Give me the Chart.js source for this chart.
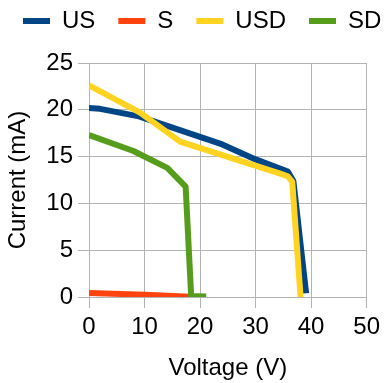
<!DOCTYPE html>
<html>
<head>
<meta charset="utf-8">
<script src="https://cdn.jsdelivr.net/npm/chart.js@4/dist/chart.umd.min.js"></script>
<style>
  html, body { margin: 0; padding: 0; background: #ffffff; }
  #chart { display: block; }
</style>
</head>
<body>
<canvas id="chart" width="385" height="383"></canvas>
<script>
// valeurs
const seriesNames = ["US", "S", "USD", "SD"];
const seriesColors = ["#004586", "#ff420e", "#ffd320", "#579d1c"];

const usVoltage = [0, 2, 9, 24, 30, 35.8, 36.8, 39.1];
const usCurrent = [20.2, 20.1, 19.3, 16.3, 14.7, 13.4, 12.4, 0.4];

const sVoltage = [0, 10, 18.2];
const sCurrent = [0.42, 0.25, 0.03];

const usdVoltage = [0, 9.2, 16.4, 34.3, 35.8, 36.6, 38.1];
const usdCurrent = [22.6, 19.7, 16.6, 13.2, 12.9, 12.3, 0];

const sdVoltage = [0, 8, 14.1, 17.4, 18.4, 21.1];
const sdCurrent = [17.3, 15.6, 13.8, 11.8, 0.1, 0.05];

const xTicks = [0, 10, 20, 30, 40, 50];
const yTicks = [0, 5, 10, 15, 20, 25];

function toPoints(xs, ys) {
  return xs.map((x, i) => ({ x: x, y: ys[i] }));
}

const allX = [usVoltage, sVoltage, usdVoltage, sdVoltage];
const allY = [usCurrent, sCurrent, usdCurrent, sdCurrent];

const datasets = seriesNames.map((name, i) => ({
  label: name,
  data: toPoints(allX[i], allY[i]),
  borderColor: seriesColors[i],
  backgroundColor: seriesColors[i],
  borderWidth: 6,
  borderJoinStyle: "round",
  showLine: true,
  pointRadius: 0,
  pointHoverRadius: 0,
  order: 4 - i, // SD dessiné au-dessus
}));

const gridColor = "#b3b3b3";
const font = { family: "'Liberation Sans', Arial, sans-serif", size: 24 };

// légende sur une seule ligne + espace sous la légende
const legendFit = {
  id: "legendFit",
  beforeInit(chart) {
    const fit = chart.legend.fit;
    chart.legend.fit = function () {
      this.maxWidth = 1000;
      fit.call(this);
      this.height += 20;
    };
    const draw = chart.legend.draw;
    chart.legend.draw = function () {
      const right = this.right;
      this.right = 1000; // pas de retour à la ligne
      draw.call(this);
      this.right = right;
    };
  },
};

new Chart(document.getElementById("chart"), {
  type: "scatter",
  data: { datasets: datasets },
  plugins: [legendFit],
  options: {
    responsive: false,
    animation: false,
    layout: { padding: { top: -14, right: 17, left: 0, bottom: 0 } },
    plugins: {
      tooltip: { enabled: false },
      legend: {
        position: "top",
        align: "start",
        labels: {
          font: font,
          color: "#000",
          boxWidth: 27,
          boxHeight: 6,
          padding: 23,
          sort: (a, b) => a.datasetIndex - b.datasetIndex,
          generateLabels(chart) {
            const items = Chart.defaults.plugins.legend.labels.generateLabels(chart);
            items.forEach((it) => { it.lineWidth = 0; });
            return items;
          },
        },
      },
    },
    scales: {
      x: {
        type: "linear",
        min: xTicks[0],
        max: xTicks[xTicks.length - 1],
        afterBuildTicks(scale) { scale.ticks = xTicks.map((v) => ({ value: v })); },
        afterFit(scale) { scale.height = 86; },
        grid: { color: gridColor, lineWidth: 1, tickLength: 11 },
        border: { color: gridColor },
        ticks: { font: font, color: "#000", padding: 5, maxRotation: 0 },
        title: { display: true, text: "Voltage (V)", font: font, color: "#000", padding: { top: 4, bottom: 0 } },
      },
      y: {
        type: "linear",
        min: yTicks[0],
        max: yTicks[yTicks.length - 1],
        afterBuildTicks(scale) { scale.ticks = yTicks.map((v) => ({ value: v })); },
        afterFit(scale) { scale.width = 89; },
        grid: { color: gridColor, lineWidth: 1, tickLength: 11 },
        border: { color: gridColor },
        ticks: { font: font, color: "#000", padding: 5 },
        title: { display: true, text: "Current (mA)", font: font, color: "#000", padding: { top: 4, bottom: 0 } },
      },
    },
  },
});
</script>
</body>
</html>
